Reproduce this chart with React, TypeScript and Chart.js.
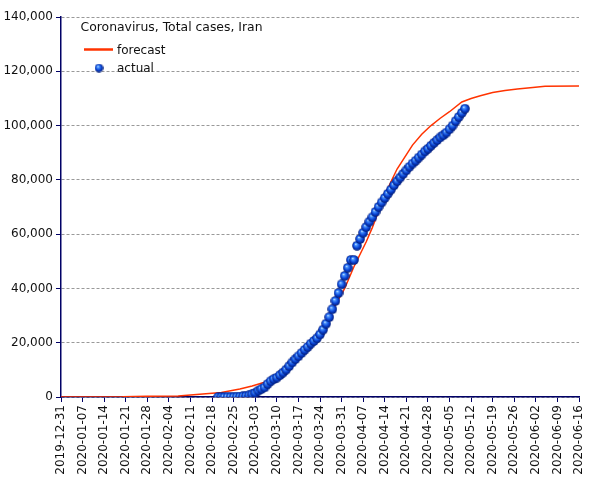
import React, { useEffect, useRef } from 'react';
import { Chart, registerables } from 'chart.js';

Chart.register(...registerables);

const TITLE = 'Coronavirus, Total cases, Iran';
const FORECAST_LABEL = 'forecast';
const ACTUAL_LABEL = 'actual';

const AXIS_START = '2019-12-31';
const AXIS_END = '2020-06-16';
const Y_MAX = 140000;
const Y_STEP = 20000;

const forecastDates = [
  '2019-12-31', '2020-01-20', '2020-01-28', '2020-02-07', '2020-02-14', '2020-02-21',
  '2020-02-27', '2020-03-02', '2020-03-06', '2020-03-10', '2020-03-15', '2020-03-20',
  '2020-03-25', '2020-03-29', '2020-04-01', '2020-04-04', '2020-04-08', '2020-04-10',
  '2020-04-14', '2020-04-18', '2020-04-23', '2020-04-26', '2020-04-29', '2020-05-02',
  '2020-05-05', '2020-05-09', '2020-05-12', '2020-05-15', '2020-05-19', '2020-05-23',
  '2020-05-27', '2020-06-01', '2020-06-05', '2020-06-16',
];
const forecastValues = [
  0, 50, 300, 400, 1000, 1700,
  2950, 4050, 5400, 8000, 12500, 18500,
  26000, 33900, 40000, 48000, 57200, 62500,
  74500, 84000, 92800, 96800, 100000, 102700,
  105100, 108700, 110000, 111000, 112200, 112900,
  113500, 114000, 114500, 114600,
];

const actualStart = '2020-02-20';
const actualValues = [
  2, 5, 18, 28, 43, 61, 95, 139, 245, 388,
  593, 978, 1501, 2336, 2922, 3513, 4747, 5823, 6566, 7161,
  8042, 9000, 10075, 11364, 12729, 13938, 14991, 16169, 17361, 18407,
  19644, 20610, 21638, 23049, 24811, 27017, 29406, 32332, 35408, 38309,
  41495, 44605, 47593, 50468, 50468, 55743, 58226, 60500, 62589, 64586,
  66220, 68192, 70029, 71686, 73303, 74877, 76389, 77995, 79494, 80868,
  82211, 83505, 84802, 85996, 87026, 88194, 89328, 90481, 91472, 92584,
  93657, 94640, 95646, 96448, 97424, 98647, 99970, 101650, 103135, 104691,
  106220,
];

const DAY_MS = 86400000;
const T0 = Date.parse(AXIS_START + 'T00:00:00Z');
const dayIndex = (s: string) => Math.round((Date.parse(s + 'T00:00:00Z') - T0) / DAY_MS);
const dayLabel = (n: number) => new Date(T0 + n * DAY_MS).toISOString().slice(0, 10);

const FONT = '"DejaVu Sans", Verdana, sans-serif';
const NAVY = '#000066';
const RED = '#ff3300';

function makeSphere(size: number): HTMLCanvasElement {
  const c = document.createElement('canvas');
  c.width = size;
  c.height = size;
  const ctx = c.getContext('2d') as CanvasRenderingContext2D;
  const r = size / 2;
  const g = ctx.createRadialGradient(r * 0.75, r * 0.65, 0.2, r, r, r);
  g.addColorStop(0, '#d8ecff');
  g.addColorStop(0.2, '#4a96ff');
  g.addColorStop(0.6, '#0b45d6');
  g.addColorStop(1, '#00176e');
  ctx.fillStyle = g;
  ctx.beginPath();
  ctx.arc(r, r, r - 0.2, 0, Math.PI * 2);
  ctx.fill();
  return c;
}

export default function App() {
  const ref = useRef<HTMLCanvasElement | null>(null);

  useEffect(() => {
    if (!ref.current) return;
    const sphere = makeSphere(10);
    const legendSphere = makeSphere(9);

    const forecastData = forecastDates.map((d, i) => ({ x: dayIndex(d), y: forecastValues[i] }));
    const s0 = dayIndex(actualStart);
    const actualData = actualValues.map((v, i) => ({ x: s0 + i, y: v }));

    const overlay = {
      id: 'overlay',
      afterDraw(chart: any) {
        const { ctx, chartArea } = chart;
        const L = chartArea.left;
        const T = chartArea.top;
        ctx.save();
        ctx.fillStyle = '#111';
        ctx.textBaseline = 'alphabetic';
        ctx.textAlign = 'left';
        ctx.font = '12.4px ' + FONT;
        ctx.fillText(TITLE, L + 19.5, T + 14);
        ctx.font = '12px ' + FONT;
        ctx.strokeStyle = RED;
        ctx.lineWidth = 2.5;
        ctx.beginPath();
        ctx.moveTo(L + 23, T + 32.5);
        ctx.lineTo(L + 52, T + 32.5);
        ctx.stroke();
        ctx.fillText(FORECAST_LABEL, L + 56, T + 36.5);
        ctx.drawImage(legendSphere, L + 33.5, T + 46.5);
        ctx.fillText(ACTUAL_LABEL, L + 56, T + 55);
        ctx.restore();
      },
    };

    const chart = new Chart(ref.current, {
      type: 'line',
      data: {
        datasets: [
          {
            label: ACTUAL_LABEL,
            data: actualData,
            showLine: false,
            pointStyle: sphere as any,
            pointRadius: 5,
            pointHoverRadius: 5,
          },
          {
            label: FORECAST_LABEL,
            data: forecastData,
            borderColor: RED,
            borderWidth: 1.5,
            pointRadius: 0,
            tension: 0,
            fill: false,
          },
        ],
      },
      options: {
        responsive: false,
        animation: false,
        devicePixelRatio: 1,
        layout: { padding: { top: 17, right: 26, left: 0, bottom: 0 } },
        plugins: {
          legend: { display: false },
          tooltip: { enabled: false },
          title: { display: false },
        },
        scales: {
          x: {
            type: 'linear',
            min: 0,
            max: dayIndex(AXIS_END),
            afterFit: (s: any) => { s.height = 83; },
            ticks: {
              stepSize: 7,
              autoSkip: false,
              maxRotation: 90,
              minRotation: 90,
              padding: 3,
              color: '#111',
              font: { family: FONT, size: 12 },
              callback: (v: any) => dayLabel(Number(v)),
            },
            grid: {
              drawOnChartArea: false,
              drawTicks: true,
              tickLength: 5,
              tickColor: NAVY,
              tickWidth: 1,
            },
            border: { color: NAVY, width: 1.5 },
          },
          y: {
            min: 0,
            max: Y_MAX,
            afterFit: (s: any) => { s.width = 61; },
            ticks: {
              stepSize: Y_STEP,
              padding: 3,
              color: '#111',
              font: { family: FONT, size: 12 },
              callback: (v: any) => Number(v).toLocaleString('en-US'),
            },
            grid: {
              color: '#999999',
              lineWidth: 1,
              drawTicks: true,
              tickLength: 5,
              tickColor: NAVY,
              tickWidth: 1,
            },
            border: { color: NAVY, width: 1.5, dash: [3, 2] },
          },
        },
      },
      plugins: [overlay],
    } as any);

    return () => chart.destroy();
  }, []);

  return (
    <div style={{ position: 'absolute', left: 0, top: 0, width: 605, height: 480, background: '#fff' }}>
      <canvas ref={ref} width={605} height={480} style={{ display: 'block' }} />
    </div>
  );
}
